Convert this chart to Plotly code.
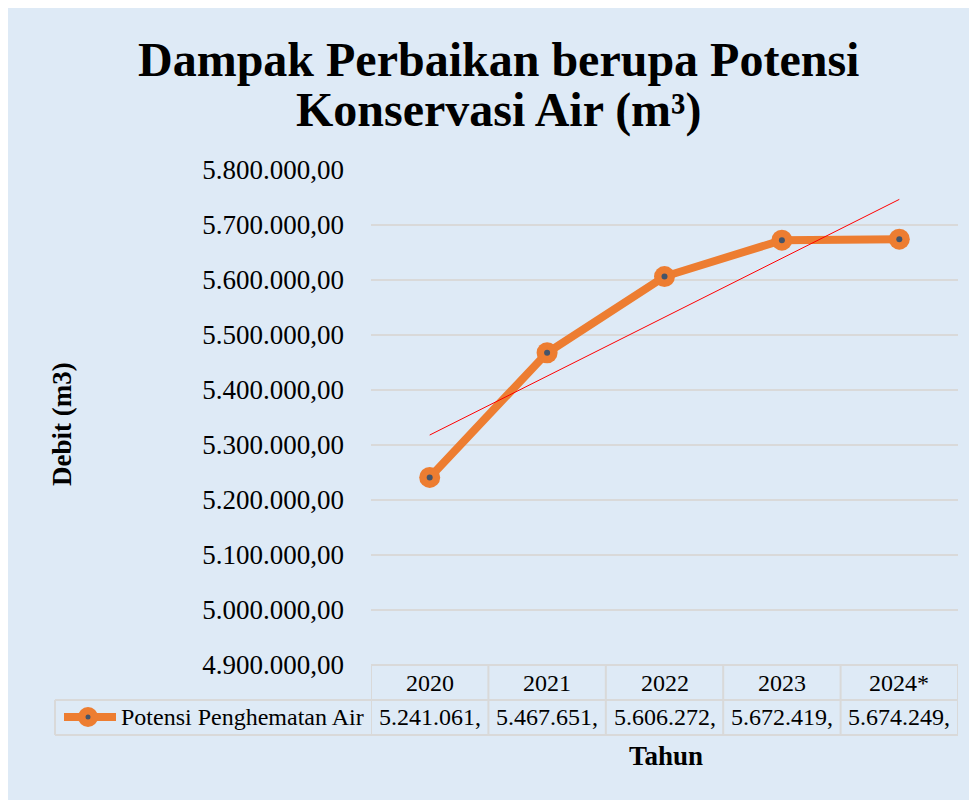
import numpy as np
import plotly.graph_objects as go

# ---- data ----
years = ["2020", "2021", "2022", "2023", "2024*"]
values = [5241061.0, 5467651.0, 5606272.0, 5672419.0, 5674249.0]
series_name = "Potensi Penghematan Air"
title_lines = ["Dampak Perbaikan berupa Potensi", "Konservasi Air (m³)"]
y_title = "Debit (m3)"
x_title = "Tahun"

# ---- layout constants (page pixels; page has 8px body margin) ----
OFF = 8
W, H = 977 - OFF, 800 - OFF
PL, PR, PT, PB = 371 - OFF, 958 - OFF, 170 - OFF, 665 - OFF
pw, ph = PR - PL, PB - PT

def px(x):
    return (x - OFF - PL) / pw

def py(y):
    return (PB - (y - OFF)) / ph

BG = "#DEEAF6"
GRID = "#D9D9D9"
ORANGE = "#ED7D31"
DOT = "#44546A"
FONT = "Liberation Serif"

# trendline (linear least squares on category index)
idx = np.arange(len(values))
coef = np.polyfit(idx, values, 1)
trend = np.polyval(coef, idx)

fig = go.Figure()
fig.add_trace(go.Scatter(x=years, y=values, mode="lines+markers",
                         line=dict(color=ORANGE, width=8),
                         marker=dict(size=21, color=ORANGE),
                         showlegend=False, hoverinfo="skip"))
fig.add_trace(go.Scatter(x=years, y=values, mode="markers",
                         marker=dict(size=6, color=DOT),
                         showlegend=False, hoverinfo="skip"))
fig.add_trace(go.Scatter(x=years, y=trend, mode="lines",
                         line=dict(color="#FF0000", width=1),
                         showlegend=False, hoverinfo="skip"))

shapes = []
# background panel
shapes.append(dict(type="rect", xref="paper", yref="paper",
                   x0=px(0), x1=px(990), y0=py(810), y1=py(0),
                   fillcolor=BG, line=dict(width=0), layer="below"))
# table lines
bl = dict(color=GRID, width=2)
shapes.append(dict(type="line", xref="x", yref="paper", x0=-0.5, x1=len(years) - 0.5,
                   y0=py(665), y1=py(665), line=bl))
for yy in (700, 735):
    shapes.append(dict(type="line", xref="paper", yref="paper", x0=px(55), x1=px(958),
                       y0=py(yy), y1=py(yy), line=bl))
for i in range(len(years) + 1):
    shapes.append(dict(type="line", xref="x", yref="paper", x0=i - 0.5, x1=i - 0.5,
                       y0=py(665), y1=py(735), line=bl))
shapes.append(dict(type="line", xref="paper", yref="paper", x0=px(55), x1=px(55),
                   y0=py(700), y1=py(735), line=bl))
# legend key
shapes.append(dict(type="line", xref="paper", yref="paper", x0=px(64), x1=px(116),
                   y0=py(717), y1=py(717), line=dict(color=ORANGE, width=8)))
shapes.append(dict(type="circle", xref="paper", yref="paper", x0=px(78), x1=px(98),
                   y0=py(727), y1=py(707), fillcolor=ORANGE, line=dict(width=0)))
shapes.append(dict(type="circle", xref="paper", yref="paper", x0=px(85.5), x1=px(90.5),
                   y0=py(719.5), y1=py(714.5), fillcolor=DOT, line=dict(width=0)))

def fmt(v):
    s = f"{v:,.2f}".replace(",", "X").replace(".", ",").replace("X", ".")
    return s[:10]

ann = []
for i, t in enumerate(title_lines):
    ann.append(dict(text=f"<b>{t}</b>", xref="paper", yref="paper",
                    x=px(498), y=py([60, 110][i]), xanchor="center", yanchor="middle",
                    showarrow=False, font=dict(family=FONT, size=48, color="#000000")))
ann.append(dict(text=f"<b>{y_title}</b>", xref="paper", yref="paper", x=px(62), y=py(424),
                textangle=-90, showarrow=False, xanchor="center", yanchor="middle",
                font=dict(family=FONT, size=27, color="#000000")))
ann.append(dict(text=f"<b>{x_title}</b>", xref="paper", yref="paper", x=px(666), y=py(756),
                showarrow=False, xanchor="center", yanchor="middle",
                font=dict(family=FONT, size=27, color="#000000")))
for i, (yr, v) in enumerate(zip(years, values)):
    ann.append(dict(text=yr, xref="x", yref="paper", x=i, y=py(683), showarrow=False,
                    xanchor="center", yanchor="middle",
                    font=dict(family=FONT, size=24, color="#000000")))
    ann.append(dict(text=fmt(v), xref="x", yref="paper", x=i, y=py(717), showarrow=False,
                    xanchor="center", yanchor="middle",
                    font=dict(family=FONT, size=24, color="#000000")))
ann.append(dict(text=series_name, xref="paper", yref="paper", x=px(119), y=py(717),
                showarrow=False, xanchor="left", yanchor="middle",
                font=dict(family=FONT, size=24, color="#000000")))

fig.update_layout(
    width=W, height=H,
    margin=dict(l=PL, r=W - PR, t=PT, b=H - PB, pad=0),
    paper_bgcolor=BG, plot_bgcolor="rgba(0,0,0,0)",
    separators=",.",
    shapes=shapes, annotations=ann,
    font=dict(family=FONT, color="#000000"),
    xaxis=dict(type="category", range=[-0.5, len(years) - 0.5], showgrid=False,
               showticklabels=False, showline=False, zeroline=False, ticks=""),
    yaxis=dict(range=[4900000, 5800000], dtick=100000, tick0=4900000,
               tickformat=",.2f", showgrid=True, gridcolor=GRID, gridwidth=2,
               zeroline=False, showline=False, ticks="", ticklabelstandoff=26,
               tickfont=dict(family=FONT, size=27, color="#000000")),
)

fig.write_html("out.html")
